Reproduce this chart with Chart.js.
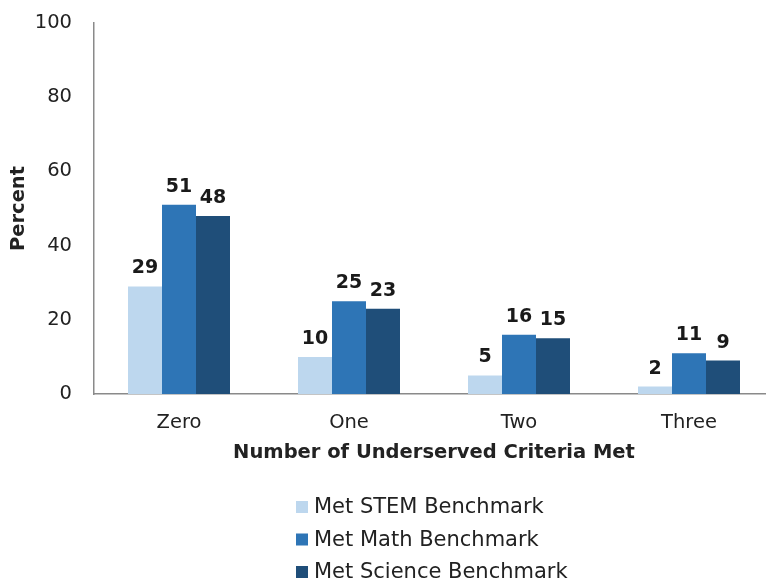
<!DOCTYPE html>
<html>
<head>
<meta charset="utf-8">
<script src="https://cdn.jsdelivr.net/npm/chart.js@4.4.1/dist/chart.umd.min.js"></script>
<style>
html,body{margin:0;padding:0;background:#fff;overflow:hidden;width:766px;height:581px;}
#wrap{position:absolute;left:0;top:0;width:776px;height:581px;}
</style>
</head>
<body>
<div id="wrap"><canvas id="c" width="776" height="581" style="width:776px;height:581px"></canvas></div>
<script>
const categories = ["Zero", "One", "Two", "Three"];
const seriesNames = ["Met STEM Benchmark", "Met Math Benchmark", "Met Science Benchmark"];
const stemValues = [29, 10, 5, 2];
const mathValues = [51, 25, 16, 11];
const scienceValues = [48, 23, 15, 9];
const yTicks = [0, 20, 40, 60, 80, 100];
const colors = ["#BDD7EE", "#2E75B6", "#1F4E79"];

const FONT = "'DejaVu Sans', sans-serif";
const TEXT = "#222222";

const valueLabels = {
  id: "valueLabels",
  afterDatasetsDraw(chart) {
    const ctx = chart.ctx;
    ctx.save();
    ctx.font = "bold 19px " + FONT;
    ctx.fillStyle = "#1a1a1a";
    ctx.textAlign = "center";
    ctx.textBaseline = "middle";
    chart.data.datasets.forEach((ds, i) => {
      const meta = chart.getDatasetMeta(i);
      meta.data.forEach((bar, j) => {
        ctx.fillText(String(ds.data[j]), bar.x, bar.y - 18);
      });
    });
    ctx.restore();
  }
};

const vLegend = {
  id: "vLegend",
  afterDraw(chart) {
    const ctx = chart.ctx;
    ctx.save();
    ctx.font = "21px " + FONT;
    ctx.textAlign = "left";
    ctx.textBaseline = "middle";
    const x0 = 296, y0 = 507, step = 32.5;
    chart.data.datasets.forEach((ds, i) => {
      const y = y0 + i * step;
      ctx.fillStyle = ds.backgroundColor;
      ctx.fillRect(x0, y - 6, 12, 12);
      ctx.fillStyle = TEXT;
      ctx.fillText(ds.label, x0 + 18, y + 1);
    });
    ctx.restore();
  }
};

new Chart(document.getElementById("c"), {
  type: "bar",
  data: {
    labels: categories,
    datasets: [
      { label: seriesNames[0], data: stemValues, backgroundColor: colors[0] },
      { label: seriesNames[1], data: mathValues, backgroundColor: colors[1] },
      { label: seriesNames[2], data: scienceValues, backgroundColor: colors[2] }
    ]
  },
  options: {
    responsive: false,
    animation: false,
    devicePixelRatio: 1,
    layout: { padding: { top: 23, right: 2, bottom: 107, left: 0 } },
    datasets: { bar: { categoryPercentage: 0.6, barPercentage: 1.0 } },
    plugins: {
      legend: { display: false },
      tooltip: { enabled: false }
    },
    scales: {
      x: {
        grid: { display: false, drawTicks: false },
        border: { display: true, color: "#8a8a8a", width: 1.5 },
        ticks: { color: TEXT, font: { family: FONT, size: 19.5 }, padding: 17 },
        title: {
          display: true,
          text: "Number of Underserved Criteria Met",
          color: TEXT,
          font: { family: FONT, size: 19.5, weight: "bold" },
          padding: { top: 6, bottom: 9 }
        },
        afterFit(s) { s.height = 80; }
      },
      y: {
        min: 0,
        max: 100,
        afterBuildTicks(s) { s.ticks = yTicks.map(v => ({ value: v })); },
        grid: { display: false, drawTicks: false },
        border: { display: true, color: "#8a8a8a", width: 1.5 },
        ticks: { color: TEXT, font: { family: FONT, size: 19.5 }, padding: 22 },
        title: {
          display: true,
          text: "Percent",
          color: TEXT,
          font: { family: FONT, size: 19.5, weight: "bold" },
          padding: { top: 7, bottom: 4 }
        },
        afterFit(s) { s.width = 94; s.paddingTop = 0; s.paddingBottom = 0; }
      }
    }
  },
  plugins: [valueLabels, vLegend]
});
</script>
</body>
</html>
